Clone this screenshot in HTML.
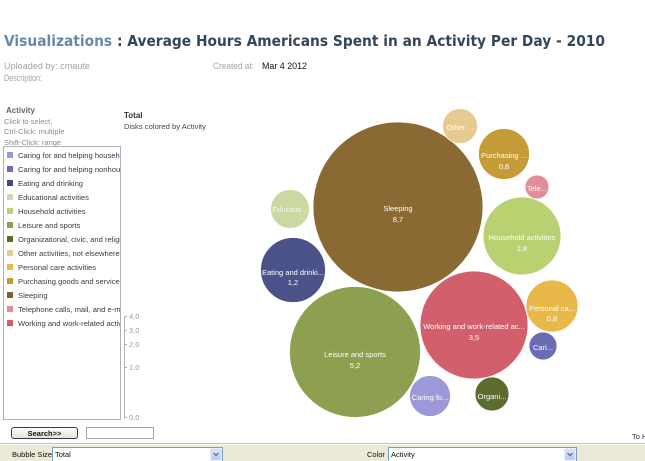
<!DOCTYPE html>
<html><head><meta charset="utf-8"><style>
html,body{margin:0;padding:0;background:#fff;}
svg{display:block;}
</style></head><body>
<svg width="645" height="461" viewBox="0 0 645 461" xmlns="http://www.w3.org/2000/svg" font-family="Liberation Sans, Arial, sans-serif">
<rect width="645" height="461" fill="#fff"/>
<!-- Title -->
<text x="4" y="46" font-family="DejaVu Sans, sans-serif" font-weight="bold" font-size="15.5" textLength="601" lengthAdjust="spacingAndGlyphs"><tspan fill="#6589ad">Visualizations</tspan><tspan fill="#34475a"> : Average Hours Americans Spent in an Activity Per Day - 2010</tspan></text>
<text x="4" y="69" font-size="9.5" fill="#a3a3a3" textLength="86" lengthAdjust="spacingAndGlyphs">Uploaded by: cmaute</text>
<text x="4" y="81" font-size="9.5" fill="#a3a3a3" textLength="38" lengthAdjust="spacingAndGlyphs">Description:</text>
<text x="213" y="69" font-size="9.5" fill="#a3a3a3" textLength="41" lengthAdjust="spacingAndGlyphs">Created at:</text>
<text x="262" y="69" font-size="9.5" fill="#111" textLength="45" lengthAdjust="spacingAndGlyphs">Mar 4 2012</text>

<!-- Left panel headers -->
<text x="6" y="113" font-size="8" font-weight="bold" fill="#666">Activity</text>
<text x="4" y="124" font-size="7.5" fill="#8a8a8a">Click to select,</text>
<text x="4" y="134" font-size="7.5" fill="#8a8a8a">Ctrl-Click: multiple</text>
<text x="4" y="145" font-size="7.5" fill="#8a8a8a">Shift-Click: range</text>

<text x="124" y="118" font-size="8" font-weight="bold" fill="#333">Total</text>
<text x="124" y="129" font-size="7.5" fill="#444" textLength="82" lengthAdjust="spacingAndGlyphs">Disks colored by Activity</text>

<!-- Legend box -->
<defs><clipPath id="lc"><rect x="4" y="147" width="116" height="272"/></clipPath></defs>
<rect x="3.5" y="146.5" width="117" height="273" fill="#fff" stroke="#a9b3bf"/>
<g clip-path="url(#lc)" font-size="7.6" fill="#3c3c3c">
<rect x="7" y="152" width="6" height="6" fill="#9c99d9"/><text x="18" y="158">Caring for and helping household members</text>
<rect x="7" y="166" width="6" height="6" fill="#6b6cb3"/><text x="18" y="172">Caring for and helping nonhousehold members</text>
<rect x="7" y="180" width="6" height="6" fill="#434b80"/><text x="18" y="186">Eating and drinking</text>
<rect x="7" y="194" width="6" height="6" fill="#cddba8"/><text x="18" y="200">Educational activities</text>
<rect x="7" y="208" width="6" height="6" fill="#bad072"/><text x="18" y="214">Household activities</text>
<rect x="7" y="222" width="6" height="6" fill="#8ca04f"/><text x="18" y="228">Leisure and sports</text>
<rect x="7" y="236" width="6" height="6" fill="#5b6c2e"/><text x="18" y="242">Organizational, civic, and religious activities</text>
<rect x="7" y="250" width="6" height="6" fill="#e5cb8f"/><text x="18" y="256">Other activities, not elsewhere classified</text>
<rect x="7" y="264" width="6" height="6" fill="#e9b84b"/><text x="18" y="270">Personal care activities</text>
<rect x="7" y="278" width="6" height="6" fill="#c59b37"/><text x="18" y="284">Purchasing goods and services</text>
<rect x="7" y="292" width="6" height="6" fill="#7f6230"/><text x="18" y="298">Sleeping</text>
<rect x="7" y="306" width="6" height="6" fill="#e38d9b"/><text x="18" y="312">Telephone calls, mail, and e-mail</text>
<rect x="7" y="320" width="6" height="6" fill="#d25f6b"/><text x="18" y="326">Working and work-related activities</text>
</g>

<!-- Size axis -->
<g stroke="#b0b0b0" stroke-width="1" fill="none">
<line x1="124.5" y1="316" x2="124.5" y2="418"/>
<line x1="124.5" y1="316.5" x2="127" y2="316.5"/>
<line x1="124.5" y1="330.5" x2="127" y2="330.5"/>
<line x1="124.5" y1="344.5" x2="127" y2="344.5"/>
<line x1="124.5" y1="367.5" x2="127" y2="367.5"/>
<line x1="124.5" y1="417.5" x2="127" y2="417.5"/>
</g>
<g font-size="7.5" fill="#999">
<text x="129" y="319">4,0</text>
<text x="129" y="333">3,0</text>
<text x="129" y="347">2,0</text>
<text x="129" y="370">1,0</text>
<text x="129" y="420">0,0</text>
</g>

<!-- Bubbles -->
<g stroke="#fff" stroke-width="0.8">
<circle cx="398" cy="207" r="85" fill="#8a6a32"/>
<circle cx="290" cy="209" r="19.5" fill="#c9d9a1"/>
<circle cx="293" cy="270" r="32.5" fill="#4b5189"/>
<circle cx="355" cy="352" r="65.5" fill="#8ca04f"/>
<circle cx="474" cy="325" r="54" fill="#d25f6b"/>
<circle cx="552" cy="306" r="26" fill="#e9b84b"/>
<circle cx="543" cy="346" r="14" fill="#6b6cb3"/>
<circle cx="430" cy="396" r="20.5" fill="#9c99d9"/>
<circle cx="492" cy="394" r="17" fill="#5b6c2e"/>
<circle cx="460" cy="126" r="17.5" fill="#e5cb8f"/>
<circle cx="504" cy="154" r="25.5" fill="#c59b37"/>
<circle cx="537" cy="187" r="12" fill="#e38d9b"/>
<circle cx="522" cy="236" r="39" fill="#b9d171"/>
</g>
<g font-size="7.5" fill="#fff" text-anchor="middle">
<text x="398" y="211">Sleeping</text><text x="398" y="222">8,7</text>
<text x="290" y="212" fill="#f4f7ea">Educatio...</text>
<text x="293" y="275">Eating and drinki...</text><text x="293" y="285">1,2</text>
<text x="355" y="357">Leisure and sports</text><text x="355" y="368">5,2</text>
<text x="474" y="329">Working and work-related ac...</text><text x="474" y="340">3,5</text>
<text x="552" y="311">Personal ca...</text><text x="552" y="321">0,8</text>
<text x="543" y="350">Cari...</text>
<text x="430" y="400">Caring fo...</text>
<text x="492" y="399">Organi...</text>
<text x="460" y="130">Other ...</text>
<text x="504" y="158">Purchasing ...</text><text x="504" y="169">0,8</text>
<text x="537" y="191">Tele...</text>
<text x="522" y="240">Household activities</text><text x="522" y="251">1,8</text>
</g>

<text x="632" y="439" font-size="7.5" fill="#333">To H</text>

<!-- Search -->
<defs>
<linearGradient id="bg" x1="0" y1="0" x2="0" y2="1"><stop offset="0" stop-color="#fdfdfb"/><stop offset="1" stop-color="#e4e2da"/></linearGradient>
<linearGradient id="ab" x1="0" y1="0" x2="0" y2="1"><stop offset="0" stop-color="#dbe6fb"/><stop offset="1" stop-color="#b8cdf5"/></linearGradient>
</defs>
<rect x="11.5" y="427.5" width="66" height="11" rx="2.5" fill="url(#bg)" stroke="#3c3c3c"/>
<text x="44.5" y="436" font-size="7.5" font-weight="bold" fill="#111" text-anchor="middle">Search&gt;&gt;</text>
<rect x="86.5" y="427.5" width="67" height="11" fill="#fff" stroke="#a8a8a8"/>

<!-- Bottom bar -->
<rect x="0" y="443" width="645" height="18" fill="#ece9d8"/>
<line x1="0" y1="443.5" x2="645" y2="443.5" stroke="#c6c2b2"/>
<line x1="0" y1="444.5" x2="645" y2="444.5" stroke="#fbfaf5"/>
<text x="12" y="457" font-size="7.5" fill="#111">Bubble Size</text>
<rect x="52.5" y="447.5" width="170" height="14" fill="#fff" stroke="#7f9db9"/>
<text x="55" y="457" font-size="7.5" fill="#111">Total</text>
<rect x="211" y="449" width="10" height="11" fill="url(#ab)" stroke="#b5c8ee" stroke-width="0.5"/>
<path d="M213.5 453 L216 455.5 L218.5 453" stroke="#4d6185" stroke-width="1.2" fill="none"/>
<text x="367" y="457" font-size="7.5" fill="#111">Color</text>
<rect x="388.5" y="447.5" width="188" height="14" fill="#fff" stroke="#7f9db9"/>
<text x="391" y="457" font-size="7.5" fill="#111">Activity</text>
<rect x="565" y="449" width="10" height="11" fill="url(#ab)" stroke="#b5c8ee" stroke-width="0.5"/>
<path d="M567.5 453 L570 455.5 L572.5 453" stroke="#4d6185" stroke-width="1.2" fill="none"/>
</svg>
</body></html>
